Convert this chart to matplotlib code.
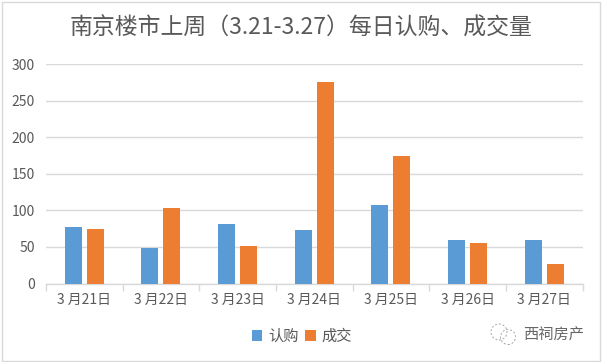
# -*- coding: utf-8 -*-
import matplotlib
matplotlib.use("Agg")
import matplotlib.pyplot as plt
from matplotlib.patches import Ellipse, Rectangle

plt.rcParams['font.family'] = ['Noto Sans CJK SC', 'DejaVu Sans']

dias = ['3 月21日', '3 月22日', '3 月23日', '3 月24日', '3 月25日', '3 月26日', '3 月27日']
rengou = [78, 48, 81, 73, 107, 60, 60]
chengjiao = [74, 103, 52, 276, 174, 56, 27]
y_ticks = [0, 50, 100, 150, 200, 250, 300]

W, H = 602, 362
AZUL = '#5B9BD5'
LARANJA = '#ED7D31'
CINZA = '#D9D9D9'
TEXTO = '#595959'

fig = plt.figure(figsize=(W / 100, H / 100), dpi=100, facecolor='white')
# moldura do grafico
fig.add_artist(Rectangle((1.5 / W, 1.5 / H), 598 / W, 358.5 / H, transform=fig.transFigure,
                         fill=False, edgecolor=CINZA, linewidth=1))

ax = fig.add_axes([46 / W, (H - 283.5) / H, 536.5 / W, 219.2 / H])

pos = list(range(len(dias)))
largura = 17 / 76.65
desloc = 11 / 76.65
ax.bar([p - desloc for p in pos], rengou, largura, color=AZUL, label='认购', zorder=3)
ax.bar([p + desloc for p in pos], chengjiao, largura, color=LARANJA, label='成交', zorder=3)

ax.set_xlim(-0.5, len(dias) - 0.5)
ax.set_ylim(0, 300)
ax.set_yticks(y_ticks)
ax.set_xticks(pos)
ax.set_xticklabels(dias)
ax.grid(axis='y', color=CINZA, linewidth=1, zorder=0)
ax.set_axisbelow(True)
for lado in ['top', 'left', 'right']:
    ax.spines[lado].set_visible(False)
ax.spines['bottom'].set_color(CINZA)
ax.spines['bottom'].set_linewidth(1)
ax.tick_params(axis='y', length=0, labelsize=10, labelcolor=TEXTO, pad=8)
ax.tick_params(axis='x', length=0, labelsize=10, labelcolor=TEXTO, pad=7)
# marcas entre as categorias
ax.set_xticks([p - 0.5 for p in pos] + [pos[-1] + 0.5], minor=True)
ax.tick_params(axis='x', which='minor', length=5, color=CINZA, width=1)

fig.text(301 / W, (H - 28) / H, '南京楼市上周（3.21-3.27）每日认购、成交量',
         ha='center', va='center', fontsize=16.5, color=TEXTO)

fig.legend(loc='center', bbox_to_anchor=(302 / W, (H - 336) / H), ncol=2, frameon=False,
           fontsize=11, labelcolor=TEXTO, handlelength=0.7, handleheight=0.7,
           handletextpad=0.4, columnspacing=0.4, borderpad=0)

# marca d'agua
for cx, cy, r in [(499, 332, 8), (508, 337, 7.5)]:
    fig.add_artist(Ellipse((cx / W, (H - cy) / H), 2 * r / W, 2 * r / H,
                           transform=fig.transFigure, fill=False,
                           edgecolor='#A6A6A6', linewidth=0.7,
                           linestyle=(0, (2, 2))))
fig.text(553.5 / W, (H - 335.5) / H, '西祠房产', ha='center', va='center', fontsize=11, color='#666666')

fig.savefig('out.png', dpi=100)
